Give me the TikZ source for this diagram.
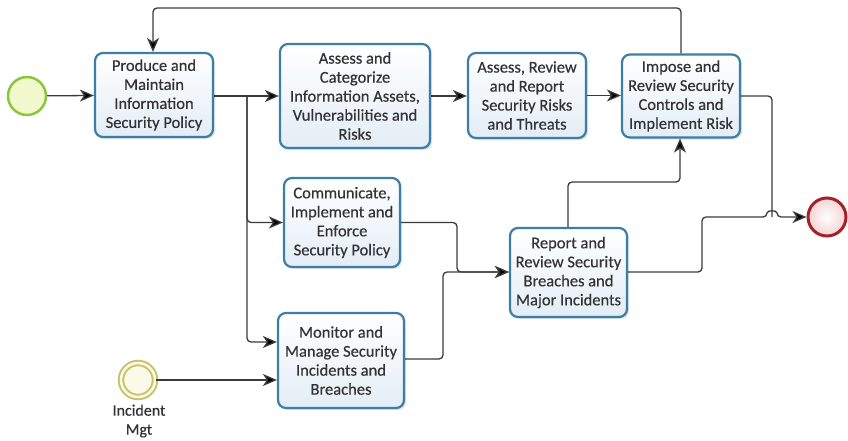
\documentclass[tikz,border=0pt]{standalone}
\usepackage{fontspec}
\setmainfont[FakeBold=0.4]{Carlito}
\usetikzlibrary{arrows.meta,shadows}
\definecolor{boxedge}{HTML}{3B7EA6}
\definecolor{boxfill}{HTML}{E3EDF6}
\definecolor{flowline}{HTML}{3A3A3A}
\definecolor{txt}{HTML}{333333}
\definecolor{startedge}{HTML}{8CC63F}
\definecolor{startfill}{HTML}{F1F8CC}
\definecolor{endedge}{HTML}{A3222A}
\definecolor{endfill}{HTML}{F4D3D3}
\definecolor{interedge}{HTML}{C9C26A}
\definecolor{interfill}{HTML}{FBFAE8}
\begin{document}
\begin{tikzpicture}[x=1pt,y=-1pt,
  task/.style={draw=boxedge, line width=2.2pt, rounded corners=8pt,
    top color=white, bottom color=boxfill, text=txt, align=center,
    inner sep=1pt, font=\fontsize{16.5}{19}\selectfont,
    drop shadow={shadow xshift=2pt, shadow yshift=-2pt, opacity=0.18, fill=black!60}},
  flow/.style={draw=flowline, line width=1.3pt, rounded corners=4pt,
    -{Stealth[length=14pt,width=12pt,inset=4pt,fill=black]}},
  plain/.style={draw=flowline, line width=1.3pt, rounded corners=4pt},
  startev/.style={circle, draw=startedge, line width=2.5pt, fill=startfill, minimum size=38pt, inner sep=0pt},
  endev/.style={circle, draw=endedge, line width=3pt, inner color=white, outer color=endfill, minimum size=38pt, inner sep=0pt},
  interev/.style={circle, draw=interedge, line width=2pt, double=interfill, double distance=2.5pt, fill=interfill, minimum size=34pt, inner sep=0pt}
]
\useasboundingbox (0,0) rectangle (848,441);

% events
\node[startev] (start) at (27,96) {};
\node[endev] (end) at (827,217) {};
\node[interev] (inc) at (138,380) {};
\node[text=txt, align=center, font=\fontsize{16}{19}\selectfont] (inclabel) at (139,421) {Incident\\Mgt};

% tasks
\node[task, minimum width=118pt, minimum height=84pt] (policy) at (154,95)
  {Produce and\\Maintain\\Information\\Security Policy};
\node[task, minimum width=150pt, minimum height=104pt] (assets) at (355,96)
  {Assess and\\Categorize\\Information Assets,\\Vulnerabilities and\\Risks};
\node[task, minimum width=118pt, minimum height=85pt] (risks) at (527,95.5)
  {Assess, Review\\and Report\\Security Risks\\and Threats};
\node[task, minimum width=118pt, minimum height=83pt] (controls) at (681,96)
  {Impose and\\Review Security\\Controls and\\Implement Risk};
\node[task, minimum width=116pt, minimum height=89pt] (enforce) at (342,222.5)
  {Communicate,\\Implement and\\Enforce\\Security Policy};
\node[task, minimum width=117pt, minimum height=89pt] (breach) at (568.5,272.5)
  {Report and\\Review Security\\Breaches and\\Major Incidents};
\node[task, minimum width=126pt, minimum height=95pt] (monitor) at (341,360.5)
  {Monitor and\\Manage Security\\Incidents and\\Breaches};

% routing points
\coordinate (split) at (247,96);
\coordinate (loopA) at (681,8);
\coordinate (loopB) at (153,8);
\coordinate (hop) at (772,217);

% sequence flows
\draw[flow] (start) -- (policy);
\draw[flow] (policy.east |- split) -- (assets.west |- split);
\draw[flow] (split) |- (enforce.west);
\draw[flow] (split) |- (monitor.west |- 0,342);
\draw[flow] (inc) -- (monitor.west |- inc);
\draw[flow] (assets) -- (risks.west |- assets);
\draw[flow] (risks) -- (controls.west |- risks);
\draw[flow] (controls.north -| loopA) -- (loopA) -- (loopB) -- (policy.north -| loopB);
\draw[flow] (enforce.east) -| (457,250) -- (457,272) -- (breach.west |- 0,272);
\draw[flow] (monitor.east |- 0,359) -| (443,272) -- (breach.west |- 0,272);
\draw[flow] (breach.north -| 568,0) |- (680,182) -- (controls.south -| 680,0);
\draw[plain] (controls.east |- 0,96) -| (hop);
\draw[flow] (breach.east |- 0,272) -| (702,217) -- ([xshift=-5pt]hop)
  .. controls ([xshift=-5pt,yshift=7pt]hop) and ([xshift=5pt,yshift=7pt]hop) .. ([xshift=5pt]hop)
  -- (end);
\end{tikzpicture}
\end{document}
